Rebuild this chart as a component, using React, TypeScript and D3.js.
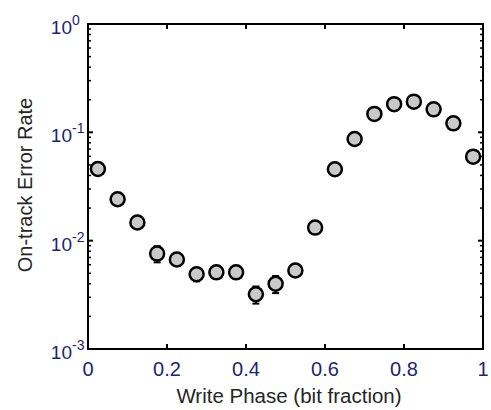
import React from "react";
import * as d3 from "d3";

const phases = [0.025, 0.075, 0.125, 0.175, 0.225, 0.275, 0.325, 0.375, 0.425, 0.475, 0.525, 0.575, 0.625, 0.675, 0.725, 0.775, 0.825, 0.875, 0.925, 0.975];
const errorRates = [0.0459, 0.0241, 0.0147, 0.0076, 0.0067, 0.0049, 0.0051, 0.0051, 0.0032, 0.0040, 0.0053, 0.0132, 0.0456, 0.0868, 0.148, 0.182, 0.192, 0.163, 0.121, 0.0596];
const relErrors = [0.1, 0.1, 0.1, 0.17, 0.12, 0.14, 0.1, 0.1, 0.18, 0.18, 0.12, 0.08, 0.06, 0.06, 0.06, 0.06, 0.06, 0.06, 0.06, 0.06];
const xTicks = [0, 0.2, 0.4, 0.6, 0.8, 1];
const xTickLabels = ["0", "0.2", "0.4", "0.6", "0.8", "1"];
const yDecades = [-3, -2, -1, 0];

const W = 491, H = 410;
const M = { left: 88, right: 483, top: 24, bottom: 349 };

export default function App() {
  const x = d3.scaleLinear().domain([0, 1]).range([M.left, M.right]);
  const y = d3.scaleLog().domain([1e-3, 1]).range([M.bottom, M.top]);
  const minor: number[] = [];
  for (const d of yDecades.slice(0, 3)) for (let k = 2; k <= 9; k++) minor.push(k * Math.pow(10, d));
  const font = "'Liberation Sans', Arial, sans-serif";
  const tickCol = "#1c2570";
  return (
    <svg width={W} height={H} style={{ position: "absolute", left: 0, top: 0, background: "#fff" }}>
      {/* error bars */}
      {phases.map((p, i) => {
        const v = errorRates[i];
        const lo = v * (1 - relErrors[i]);
        const hi = v * (1 + relErrors[i]);
        return (
          <g key={"e" + i} stroke="#000" strokeWidth={2}>
            <line x1={x(p)} x2={x(p)} y1={y(lo)} y2={y(hi)} />
            <line x1={x(p) - 3.5} x2={x(p) + 3.5} y1={y(lo)} y2={y(lo)} />
            <line x1={x(p) - 3.5} x2={x(p) + 3.5} y1={y(hi)} y2={y(hi)} />
          </g>
        );
      })}
      {phases.map((p, i) => (
        <circle key={"c" + i} cx={x(p)} cy={y(errorRates[i])} r={7} fill="#c9c9c9" stroke="#000" strokeWidth={2.5} />
      ))}
      {/* frame */}
      <rect x={M.left} y={M.top} width={M.right - M.left} height={M.bottom - M.top} fill="none" stroke="#000" strokeWidth={2} />
      {/* x ticks */}
      {xTicks.map((t, i) => (
        <g key={"xt" + i}>
          {i > 0 && i < xTicks.length - 1 && (
            <>
              <line x1={x(t)} x2={x(t)} y1={M.bottom} y2={M.bottom - 5} stroke="#000" strokeWidth={2} />
              <line x1={x(t)} x2={x(t)} y1={M.top} y2={M.top + 5} stroke="#000" strokeWidth={2} />
            </>
          )}
          <text x={x(t)} y={376} textAnchor="middle" fontFamily={font} fontSize={20} fill={tickCol}>
            {xTickLabels[i]}
          </text>
        </g>
      ))}
      {/* y ticks */}
      {yDecades.map((d) => (
        <g key={"yd" + d}>
          {d > -3 && d < 0 && (
            <>
              <line x1={M.left} x2={M.left + 5} y1={y(Math.pow(10, d))} y2={y(Math.pow(10, d))} stroke="#000" strokeWidth={2} />
              <line x1={M.right} x2={M.right - 5} y1={y(Math.pow(10, d))} y2={y(Math.pow(10, d))} stroke="#000" strokeWidth={2} />
            </>
          )}
          <text x={72} y={y(Math.pow(10, d)) + 10} textAnchor="end" fontFamily={font} fontSize={19} fill={tickCol}>
            10
          </text>
          <text x={72} y={y(Math.pow(10, d)) + 1} textAnchor="start" fontFamily={font} fontSize={14} fill={tickCol}>
            {d === 0 ? "0" : "-" + -d}
          </text>
        </g>
      ))}
      {minor.map((m, i) => (
        <g key={"mn" + i} stroke="#000" strokeWidth={1.5}>
          <line x1={M.left} x2={M.left + 3} y1={y(m)} y2={y(m)} />
          <line x1={M.right} x2={M.right - 3} y1={y(m)} y2={y(m)} />
        </g>
      ))}
      <text x={289} y={403} textAnchor="middle" fontFamily={font} fontSize={20.5} fill="#262626">
        Write Phase (bit fraction)
      </text>
      <text transform={`translate(32, ${185}) rotate(-90)`} textAnchor="middle" fontFamily={font} fontSize={20} fill="#262626">
        On-track Error Rate
      </text>
    </svg>
  );
}
